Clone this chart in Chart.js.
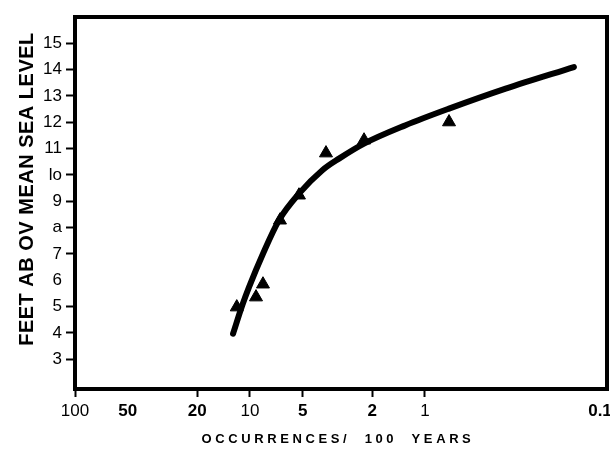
<!DOCTYPE html>
<html>
<head>
    <title>Feet above mean sea level</title>
    <script src="https://cdn.jsdelivr.net/npm/chart.js"></script>
    <style>
        body { margin: 0; background: #fff; }
        #wrap { width: 610px; height: 456px; }
    </style>
</head>
<body>
<div id="wrap"><canvas id="levelChart"></canvas></div>

<script>
    // fitted curve (occurrences per 100 years -> feet)
    const curveFreq = [12.5, 11.07, 10.13, 8.43, 6.83, 5.25, 3.86, 3.1, 2.23, 1.29, 0.729, 0.346, 0.141];
    const curveFeet = [3.97, 5.05, 5.74, 7.01, 8.28, 9.29, 10.18, 10.62, 11.19, 11.89, 12.52, 13.28, 14.1];

    // observed points (triangles)
    const obsFreq = [11.9, 9.24, 8.43, 6.74, 5.25, 3.68, 2.23, 0.729];
    const obsFeet = [4.98, 5.36, 5.85, 8.28, 9.23, 10.83, 11.32, 12.01];

    const xTicks = [100, 50, 20, 10, 5, 2, 1];
    const xTickLabels = ['100', '50', '20', '10', '5', '2', '1'];
    const xEdgeTick = 0.1;      // sits on the right edge, label runs off the page
    const xEdgeLabel = '0.1';
    const yTicks = [3, 4, 5, 6, 7, 8, 9, 10, 11, 12, 13, 14, 15];
    const yTickLabels = ['3', '4', '5', '6', '7', 'a', '9', 'lo', '11', '12', '13', '14', '15'];

    const xTitle = 'OCCURRENCES/  100  YEARS';
    const yTitle = 'FEET AB OV MEAN SEA LEVEL';

    const FONT = "'Liberation Sans', Arial, sans-serif";
    Chart.defaults.color = '#000';
    Chart.defaults.font.family = FONT;

    // the scan prints some x labels heavier than others
    const boldX = [50, 20, 5, 2];

    // frame around the plot, edge tick label and the two spaced-out axis titles
    const framePlugin = {
        id: 'frame',
        afterDraw(chart) {
            const ctx = chart.ctx;
            const a = chart.chartArea;
            const xs = chart.scales.x;
            ctx.save();
            ctx.strokeStyle = '#000';
            ctx.lineWidth = 4;
            ctx.strokeRect(a.left, a.top, a.right - a.left, a.bottom - a.top);

            ctx.fillStyle = '#000';
            ctx.textAlign = 'center';
            ctx.textBaseline = 'middle';

            ctx.font = 'bold 17px ' + FONT;
            ctx.fillText(xEdgeLabel, xs.getPixelForValue(xEdgeTick), a.bottom + 8 + 4 + 10.2);

            ctx.font = 'bold 13px ' + FONT;
            ctx.letterSpacing = '3.6px';
            ctx.fillText(xTitle, 338, 439);

            ctx.translate(27, 189);
            ctx.rotate(-Math.PI / 2);
            ctx.font = 'bold 20px ' + FONT;
            ctx.letterSpacing = '0.5px';
            ctx.fillText(yTitle, 0, 0);
            ctx.restore();
        }
    };

    const ctx = document.getElementById('levelChart').getContext('2d');
    const config = {
        type: 'line',
        data: {
            datasets: [{
                label: 'curve',
                data: curveFreq.map((f, i) => ({x: f, y: curveFeet[i]})),
                borderColor: '#000',
                borderWidth: 6,
                borderCapStyle: 'round',
                pointRadius: 0,
                cubicInterpolationMode: 'monotone',
                fill: false
            }, {
                label: 'observed',
                data: obsFreq.map((f, i) => ({x: f, y: obsFeet[i]})),
                showLine: false,
                pointStyle: 'triangle',
                pointRadius: 7.5,
                pointBackgroundColor: '#000',
                pointBorderColor: '#000',
                pointBorderWidth: 1
            }]
        },
        options: {
            responsive: true,
            maintainAspectRatio: false,
            animation: false,
            layout: {
                autoPadding: false,
                padding: {top: 17, right: 3, left: 0, bottom: 0}
            },
            plugins: {
                legend: {display: false},
                tooltip: {enabled: false}
            },
            scales: {
                x: {
                    type: 'logarithmic',
                    reverse: true,
                    bounds: 'data',
                    min: 0.0912,
                    max: 100,
                    border: {display: false},
                    grid: {
                        drawOnChartArea: false,
                        tickLength: 8,
                        tickWidth: 2,
                        tickColor: c => (c.tick && c.tick.value === 50) ? 'rgba(0,0,0,0)' : '#000'
                    },
                    afterBuildTicks: s => { s.ticks = xTicks.map(v => ({value: v})); },
                    afterFit: s => { s.height = 67; },
                    ticks: {
                        autoSkip: false,
                        maxRotation: 0,
                        padding: 4,
                        font: c => ({size: 17, weight: (c.tick && boldX.includes(c.tick.value)) ? 'bold' : 'normal'}),
                        callback: (v, i) => xTickLabels[i]
                    }
                },
                y: {
                    type: 'linear',
                    bounds: 'data',
                    min: 1.87,
                    max: 16,
                    border: {display: false},
                    grid: {
                        drawOnChartArea: false,
                        tickLength: 9,
                        tickWidth: 2,
                        tickColor: c => (c.tick && c.tick.value === 6) ? 'rgba(0,0,0,0)' : '#000'
                    },
                    afterBuildTicks: s => { s.ticks = yTicks.map(v => ({value: v})); },
                    afterFit: s => { s.width = 75; },
                    ticks: {
                        autoSkip: false,
                        padding: 4,
                        font: {size: 17},
                        callback: (v, i) => yTickLabels[i]
                    }
                }
            }
        },
        plugins: [framePlugin]
    };
    const levelChart = new Chart(ctx, config);
</script>
</body>
</html>
